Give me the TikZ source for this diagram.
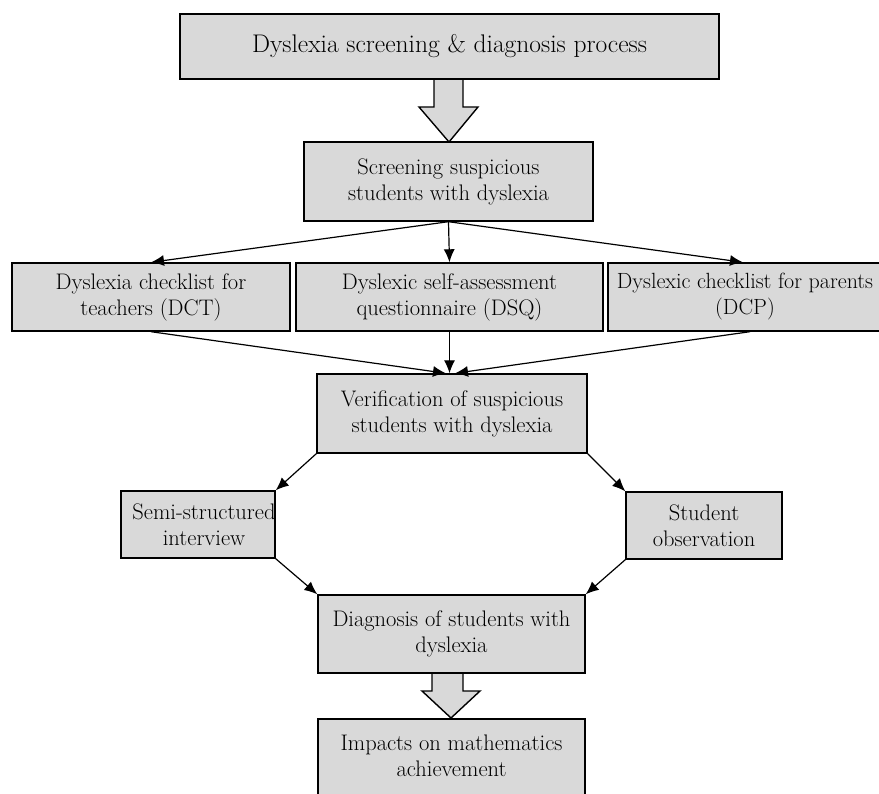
\documentclass[tikz,border=0pt]{standalone}
\usetikzlibrary{arrows.meta,calc}
\definecolor{boxgray}{HTML}{D9D9D9}
\begin{document}
\begin{tikzpicture}[x=1pt,y=-1pt,
  box/.style={draw=black, line width=1.4pt, fill=boxgray, inner sep=0pt, align=center,
    font=\fontsize{22.5}{26}\selectfont},
  txt/.style={inner sep=0pt, align=center, font=\fontsize{22.5}{26}\selectfont},
  arr/.style={line width=1.2pt, -{Latex[length=13pt,width=11pt]}},
  hollow/.style={draw=black, line width=1.4pt, fill=boxgray}]
\useasboundingbox (0,0) rectangle (879,794);
\fill[white] (0,0) rectangle (879,794);

% hollow arrows (drawn first, under boxes)
\filldraw[hollow] (434,79) -- (434,107) -- (419,107) -- (449,142) -- (478,107) -- (463,107) -- (463,79);
\filldraw[hollow] (432,673) -- (432,691) -- (422,691) -- (451,718) -- (480,691) -- (463,691) -- (463,673);

% boxes
\node[box, minimum width=539, minimum height=65, font=\fontsize{25.5}{28}\selectfont] (top) at (449.5,46.5) {Dyslexia screening \& diagnosis process};
\node[box, minimum width=289, minimum height=79] (screen) at (448.5,181.5) {Screening suspicious\\students with dyslexia};
\node[box, minimum width=278, minimum height=68] (dct) at (151,297) {Dyslexia checklist for\\teachers (DCT)};
\node[box, minimum width=307, minimum height=68] (dsq) at (449.5,297) {Dyslexic self-assessment\\questionnaire (DSQ)};
\node[box, minimum width=284, minimum height=68] (dcp) at (750,297) {};
\node[txt, font=\fontsize{22}{26}\selectfont] (dcptxt) at (745,297) {Dyslexic checklist for parents\\(DCP)};
\node[box, minimum width=270, minimum height=79] (verif) at (452,413.5) {Verification of suspicious\\students with dyslexia};
\node[box, minimum width=154, minimum height=67] (semi) at (198,524.5) {};
\node[txt] (semitxt) at (204,524.5) {Semi-structured\\interview};
\node[box, minimum width=156, minimum height=67] (obs) at (704,525.5) {Student\\observation};
\node[box, minimum width=267, minimum height=78] (diag) at (451.5,634) {Diagnosis of students with\\dyslexia};
\node[box, minimum width=267, minimum height=100] (impact) at (451.5,769) {};
\node[txt] (imptxt) at (451.5,756) {Impacts on mathematics\\achievement};

% connectors
\draw[arr] (screen.south) -- (dct.north);
\draw[arr] (screen.south) -- (dsq.north);
\draw[arr] (screen.south) -- ($(dcp.north)+(-7,0)$);
\draw[arr] (dct.south) -- ($(verif.north)+(-6,0)$);
\draw[arr] (dsq.south) -- (dsq.south |- verif.north);
\draw[arr] (dcp.south) -- ($(verif.north)+(3,0)$);
\draw[arr] (verif.south west) -- (semi.north east);
\draw[arr] (verif.south east) -- (obs.north west);
\draw[arr] (semi.south east) -- (diag.north west);
\draw[arr] (obs.south west) -- (diag.north east);
\end{tikzpicture}
\end{document}
